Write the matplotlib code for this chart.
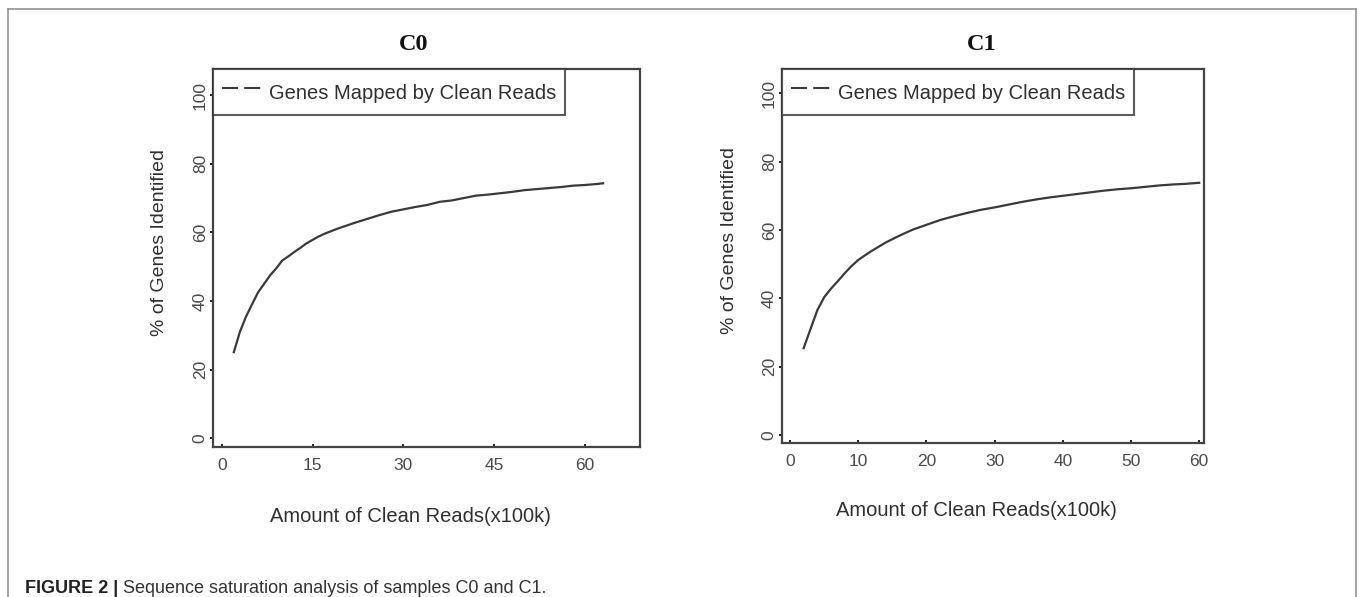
import matplotlib
matplotlib.use("Agg")
import matplotlib.pyplot as plt
from matplotlib.lines import Line2D

plt.rcParams['font.family'] = ['Liberation Sans', 'DejaVu Sans']
plt.rcParams['lines.scale_dashes'] = False

# ---------------- data ----------------
c0_x = [2, 3, 4, 5, 6, 7, 8, 9, 10, 11, 12, 13, 14, 15, 16, 17, 18, 19, 20,
        22, 24, 26, 28, 30, 32, 34, 36, 38, 40, 42, 44, 46, 48, 50, 52, 54,
        56, 58, 60, 62, 63]
c0_y = [25.1, 31.0, 35.4, 39.0, 42.5, 45.0, 47.5, 49.5, 51.8, 53.0, 54.3,
        55.5, 56.8, 57.8, 58.8, 59.6, 60.3, 61.0, 61.6, 62.8, 63.9, 65.0,
        66.0, 66.7, 67.4, 68.0, 68.9, 69.3, 70.0, 70.7, 71.0, 71.4, 71.8,
        72.3, 72.6, 72.9, 73.2, 73.6, 73.8, 74.1, 74.3]

c1_x = [2, 3, 4, 5, 6, 7, 8, 9, 10, 11, 12, 13, 14, 15, 16, 17, 18, 19, 20,
        22, 24, 26, 28, 30, 32, 34, 36, 38, 40, 42, 44, 46, 48, 50, 52, 54,
        56, 58, 60]
c1_y = [25.4, 31.0, 36.5, 40.3, 42.8, 45.0, 47.3, 49.4, 51.2, 52.6, 53.9,
        55.1, 56.3, 57.3, 58.3, 59.2, 60.1, 60.8, 61.5, 62.9, 64.0, 65.0,
        65.9, 66.6, 67.4, 68.2, 68.9, 69.5, 70.0, 70.5, 71.0, 71.5, 71.9,
        72.2, 72.6, 73.0, 73.3, 73.5, 73.8]

c0_xticks = [0, 15, 30, 45, 60]
c1_xticks = [0, 10, 20, 30, 40, 50, 60]
yticks = [0, 20, 40, 60, 80, 100]

titles = ["C0", "C1"]
legend_label = "Genes Mapped by Clean Reads"
xlabel = "Amount of Clean Reads(x100k)"
ylabel = "% of Genes Identified"
caption_bold = "FIGURE 2 |"
caption_text = " Sequence saturation analysis of samples C0 and C1."

# ---------------- layout ----------------
W, H = 1360, 597
fig = plt.figure(figsize=(W / 100, H / 100), dpi=100)


def fx(px):
    return px / W


def fy(py):
    return 1 - py / H


panels = [
    dict(x=c0_x, y=c0_y, xticks=c0_xticks, title=titles[0],
         box=(212.7, 69, 640, 446.7), xlim=(-1.49, 69.1), ylim=(-2.45, 107.6),
         title_xy=(414, 49.5), ylab_xy=(160, 242), xlab_xy=(410, 516)),
    dict(x=c1_x, y=c1_y, xticks=c1_xticks, title=titles[1],
         box=(781.7, 69, 1204, 442.7), xlim=(-1.22, 60.7), ylim=(-2.25, 107.1),
         title_xy=(981.7, 50), ylab_xy=(730, 240), xlab_xy=(976.7, 511)),
]

line_col = '#3a3a3a'
tick_col = '#4a4a4a'
lab_col = '#303030'

for p in panels:
    l, t, r, b = p['box']
    ax = fig.add_axes([fx(l), fy(b), fx(r) - fx(l), fy(t) - fy(b)])
    ax.plot(p['x'], p['y'], color=line_col, lw=1.6)
    ax.set_xlim(*p['xlim'])
    ax.set_ylim(*p['ylim'])
    ax.set_xticks(p['xticks'])
    ax.set_yticks(yticks)
    for s in ax.spines.values():
        s.set_color('#444444')
        s.set_linewidth(1.6)
    ax.tick_params(axis='x', direction='in', length=2.5, width=1.4,
                   color='#222222', pad=8, labelsize=12.5, labelcolor=tick_col)
    ax.tick_params(axis='y', direction='out', length=2.5, width=1.4,
                   color='#222222', pad=1, labelsize=12.5, labelcolor=tick_col,
                   labelrotation=90)
    for lab in ax.get_yticklabels():
        lab.set_va('center')

    handle = Line2D([], [], color=line_col, lw=1.5, linestyle=(0, (11.5, 4.5)))
    leg = ax.legend([handle], [legend_label], loc='upper left',
                    borderaxespad=0, fontsize=14.5, frameon=True, fancybox=False,
                    borderpad=0.45, handlelength=1.95, handletextpad=0.4,
                    handleheight=1.75)
    leg.get_frame().set_edgecolor('#333333')
    leg.get_frame().set_linewidth(1.5)
    for txt in leg.get_texts():
        txt.set_color(lab_col)

    fig.text(fx(p['title_xy'][0]), fy(p['title_xy'][1]), p['title'],
             ha='center', va='baseline', fontsize=17.5, fontweight='bold',
             family=['Liberation Serif', 'DejaVu Serif'], color='#111111')
    fig.text(fx(p['ylab_xy'][0]), fy(p['ylab_xy'][1]), ylabel, rotation=90,
             ha='center', va='center', fontsize=14, color=lab_col)
    fig.text(fx(p['xlab_xy'][0]), fy(p['xlab_xy'][1]), xlabel,
             ha='center', va='center', fontsize=14.5, color=lab_col)

# outer frame
frame_col = '#8a8a8a'
fig.add_artist(Line2D([fx(8), fx(8)], [fy(9), 0], transform=fig.transFigure,
                      color=frame_col, lw=1.1))
fig.add_artist(Line2D([fx(8), fx(1356)], [fy(9), fy(9)], transform=fig.transFigure,
                      color=frame_col, lw=1.1))
fig.add_artist(Line2D([fx(1356), fx(1356)], [fy(9), 0], transform=fig.transFigure,
                      color=frame_col, lw=1.1))

# caption
t1 = fig.text(fx(25), fy(593), caption_bold, ha='left', va='baseline',
              fontsize=13, fontweight='bold', color='#222222')
fig.canvas.draw()
bb = t1.get_window_extent()
fig.text(bb.x1 / W, fy(593), caption_text, ha='left', va='baseline',
         fontsize=13, color='#333333')

fig.savefig('out.png', dpi=100)
